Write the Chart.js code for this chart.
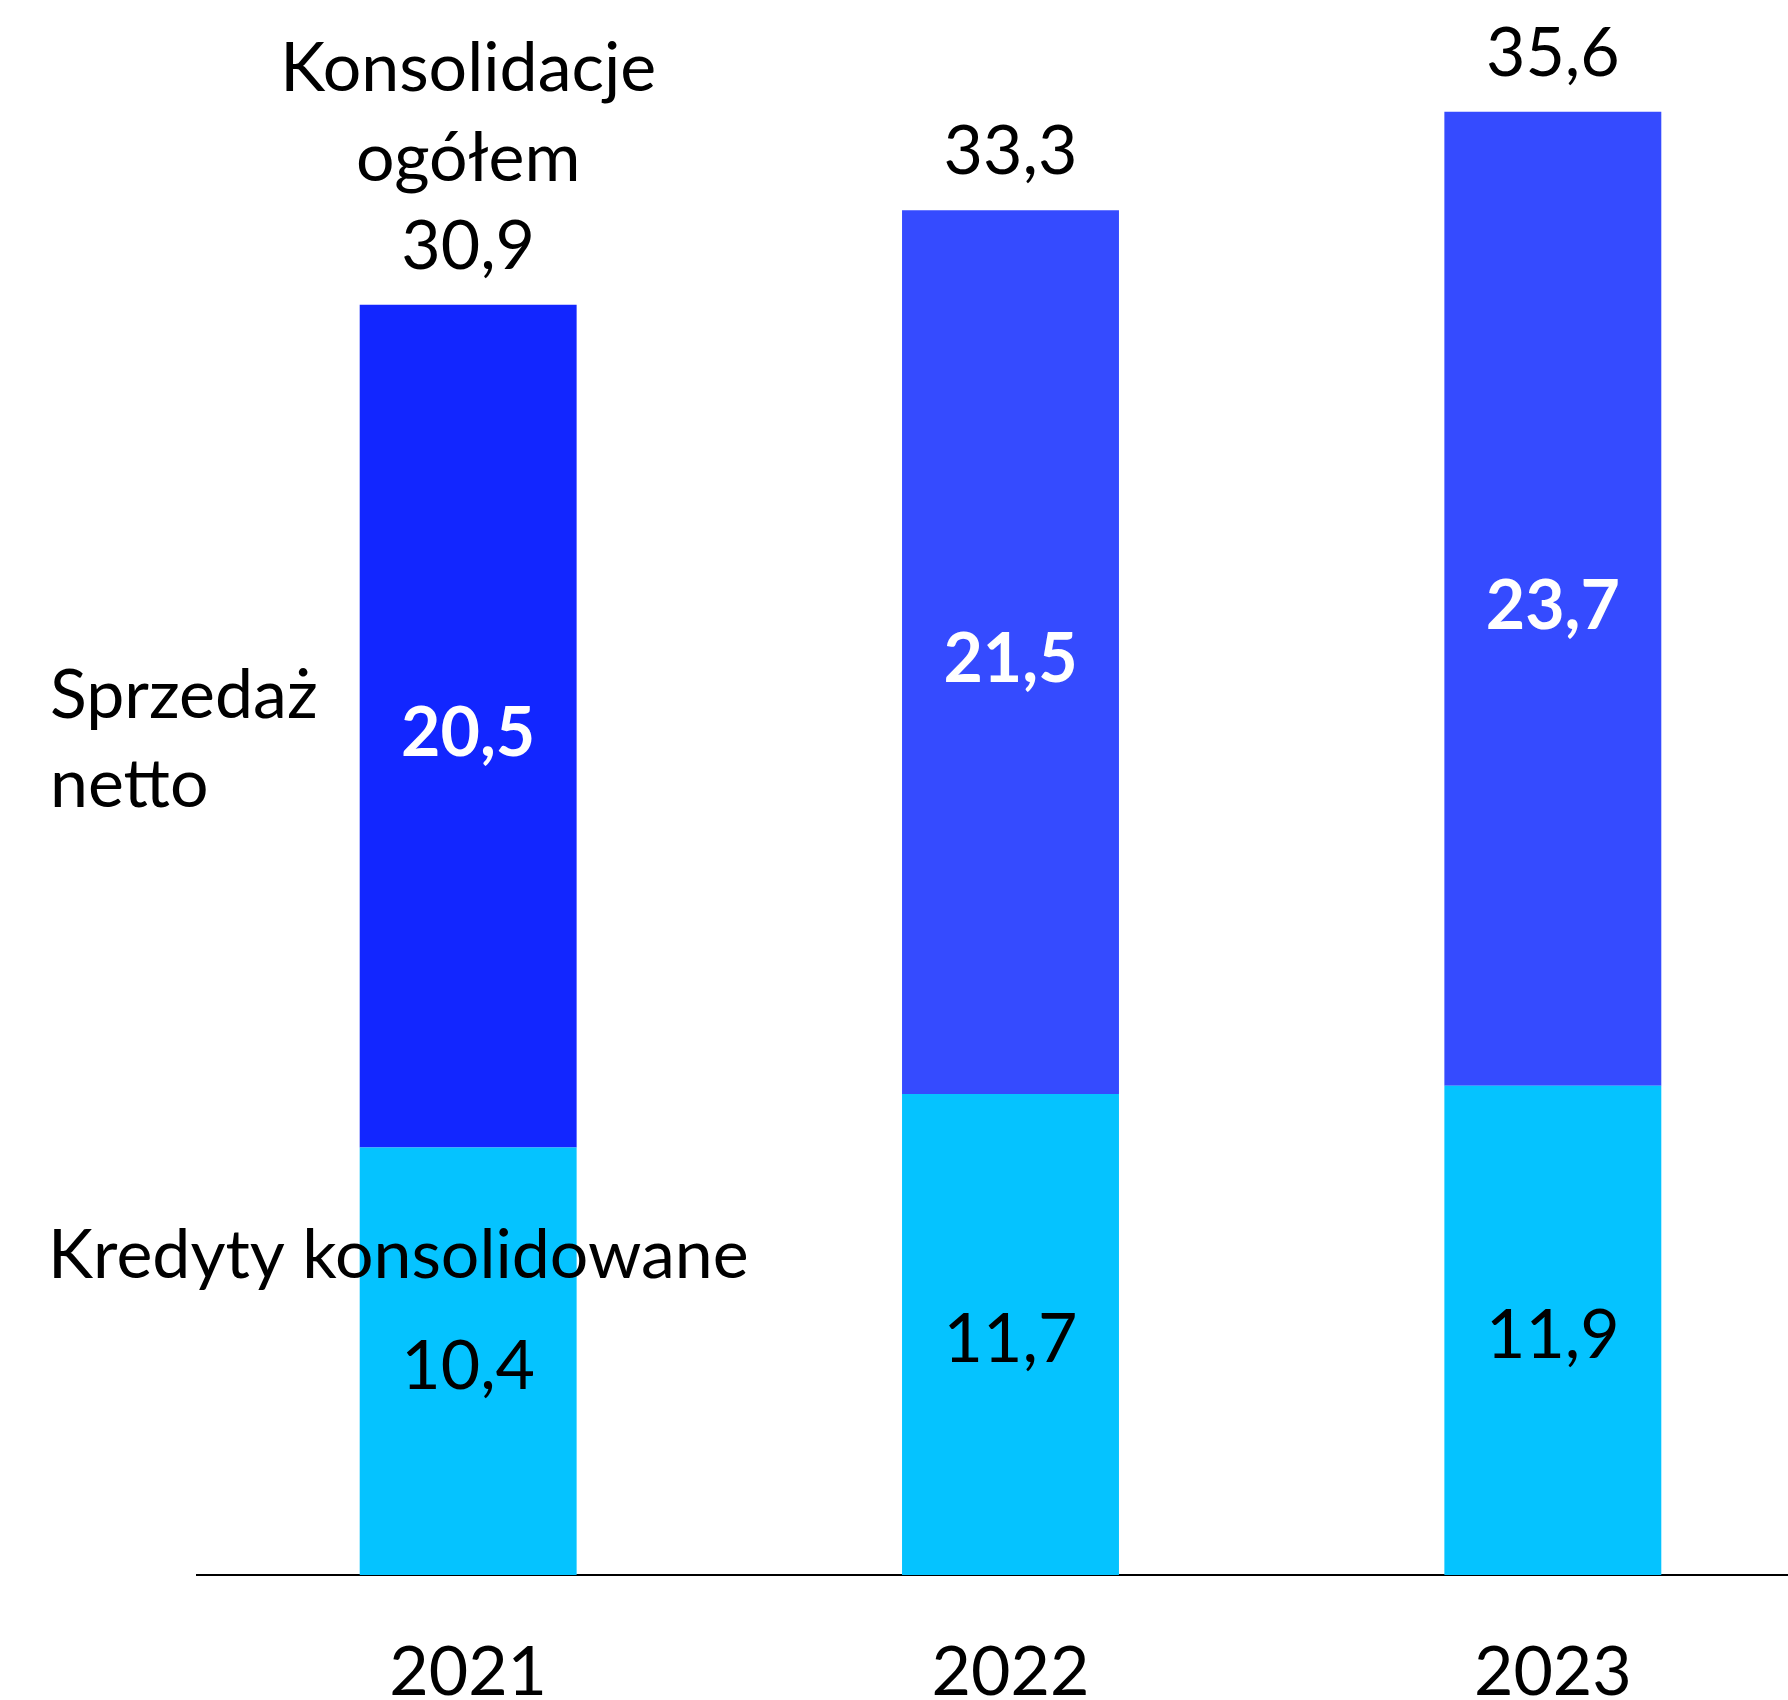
<!DOCTYPE html>
<html>
<head>
<meta charset="utf-8">
<script src="https://cdn.jsdelivr.net/npm/chart.js@4.4.1/dist/chart.umd.min.js"></script>
<style>
    html, body {
        margin: 0;
        padding: 0;
        background: #ffffff;
        overflow: hidden;
    }
    #myChart {
        display: block;
    }
</style>
</head>
<body>
<canvas id="myChart" width="1826" height="1700"></canvas>
<script>
const years = ['2021', '2022', '2023'];
const kredyty = [10.4, 11.7, 11.9];
const sprzedaz = [20.5, 21.5, 23.7];
const ogolem = [30.9, 33.3, 35.6];
const kredytyLabels = ['10,4', '11,7', '11,9'];
const sprzedazLabels = ['20,5', '21,5', '23,7'];
const ogolemLabels = ['30,9', '33,3', '35,6'];

const sprzedazColors = ['#1226FF', '#354BFF', '#354BFF'];
const kredytyColor = '#05C3FF';

Chart.defaults.font.family = 'Lato';
Chart.defaults.font.size = 68;

// text on top of / inside the bars, years under the axis, series names on the left
const labelsPlugin = {
    id: 'labelsPlugin',
    afterDatasetsDraw(chart) {
        const c = chart.ctx;
        const x = chart.scales.x;
        const bottomMeta = chart.getDatasetMeta(0);
        const topMeta = chart.getDatasetMeta(1);
        c.save();
        c.textAlign = 'center';

        years.forEach(function (year, i) {
            const cx = x.getPixelForValue(i);
            const top = topMeta.data[i];
            const bot = bottomMeta.data[i];

            // totals above bars
            c.font = '68px Lato';
            c.fillStyle = '#000000';
            c.textBaseline = 'alphabetic';
            const base = top.y - 36;
            c.fillText(ogolemLabels[i], cx, base);
            if (i === 0) {
                c.fillText('ogółem', cx, base - 88);
                c.fillText('Konsolidacje', cx, base - 178);
            }

            // segment values
            c.textBaseline = 'middle';
            c.font = 'bold 68px Lato';
            c.fillStyle = '#ffffff';
            c.fillText(sprzedazLabels[i], cx, (top.y + top.base) / 2 + 8);
            c.font = '68px Lato';
            c.fillStyle = '#000000';
            c.fillText(kredytyLabels[i], cx, (bot.y + bot.base) / 2 + 6);

            // years
            c.textBaseline = 'alphabetic';
            c.fillText(year, cx, chart.chartArea.bottom + 120);
        });

        // series names
        c.textAlign = 'left';
        c.textBaseline = 'alphabetic';
        c.font = '68px Lato';
        c.fillStyle = '#000000';
        c.fillText('Sprzedaż', 50, 718);
        c.fillText('netto', 50, 807);
        c.fillText('Kredyty konsolidowane', 48, 1278);
        c.restore();
    }
};

const ctx = document.getElementById('myChart');

const myChart = new Chart(ctx, {
    type: 'bar',
    data: {
        labels: years,
        datasets: [{
            label: 'Kredyty konsolidowane',
            data: kredyty,
            backgroundColor: kredytyColor,
            borderWidth: 0,
            categoryPercentage: 1,
            barPercentage: 0.4
        }, {
            label: 'Sprzedaż netto',
            data: sprzedaz,
            backgroundColor: sprzedazColors,
            borderWidth: 0,
            categoryPercentage: 1,
            barPercentage: 0.4
        }]
    },
    options: {
        responsive: false,
        animation: false,
        layout: {
            padding: {
                left: 197,
                right: 2,
                top: 13,
                bottom: 125
            }
        },
        scales: {
            x: {
                stacked: true,
                grid: {
                    display: false,
                    drawTicks: false
                },
                border: {
                    display: true,
                    color: '#000000',
                    width: 2
                },
                ticks: {
                    display: false
                }
            },
            y: {
                stacked: true,
                display: false,
                min: 0,
                max: 38
            }
        },
        plugins: {
            legend: {
                display: false
            },
            tooltip: {
                enabled: false
            }
        }
    },
    plugins: [labelsPlugin]
});
</script>
</body>
</html>
